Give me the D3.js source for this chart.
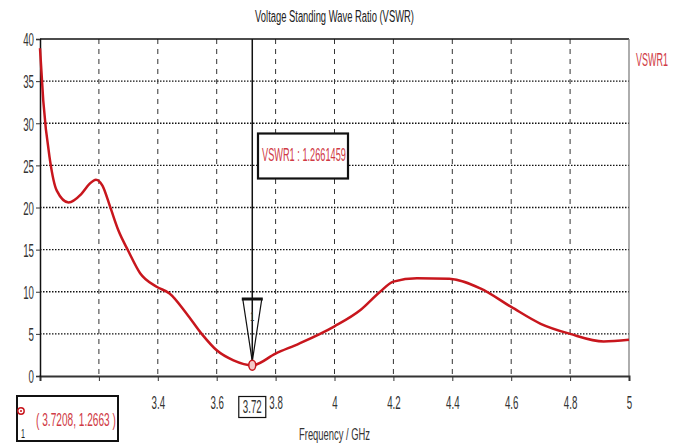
<!DOCTYPE html>
<html>
<head>
<meta charset="utf-8">
<script src="https://cdn.jsdelivr.net/npm/d3@7/dist/d3.min.js"></script>
<style>
  body { margin: 0; background: #fff; }
  svg { display: block; font-family: "Liberation Sans", Arial, sans-serif; }
</style>
</head>
<body>
<svg width="683" height="446"></svg>
<script>
// data
const freq = [3.0, 3.011, 3.034, 3.057, 3.097, 3.14, 3.168, 3.19, 3.212, 3.238, 3.266, 3.299, 3.34,
  3.396, 3.44, 3.498, 3.549, 3.6, 3.657, 3.7208, 3.8, 3.88, 4.0, 4.087, 4.155, 4.2, 4.28, 4.39,
  4.495, 4.6, 4.7, 4.8, 4.914, 5.0];
const vswr = [38.9, 32.7, 25.6, 22.0, 20.6, 21.6, 22.8, 23.3, 22.6, 20.1, 17.3, 14.9, 12.2,
  10.6, 9.8, 7.4, 5.0, 3.05, 1.86, 1.27, 2.66, 3.85, 5.9, 7.8, 10.0, 11.2, 11.6, 11.55,
  10.4, 8.2, 6.2, 5.0, 4.1, 4.3];
const xTicks = [3, 3.2, 3.4, 3.6, 3.8, 4, 4.2, 4.4, 4.6, 4.8, 5];
const xHiddenLabels = [3, 3.2]; // covered by the marker table in the reference
const yTicks = [0, 5, 10, 15, 20, 25, 30, 35, 40];
const markerFreq = 3.7208;
const markerVal = 1.2663;
const markerReadout = '1.2661459';
const seriesName = 'VSWR1';

const svg = d3.select('svg');
const margin = { top: 39, right: 54, bottom: 70, left: 40 };
const width = 683 - margin.left - margin.right;
const height = 446 - margin.top - margin.bottom;
const red = '#c8161d';
const textRed = '#d03a45';
const sx = 0.54;

const x = d3.scaleLinear().domain([3, 5]).range([0, width]);
const y = d3.scaleLinear().domain([0, 40]).range([height, 0]);

// squeeze a text horizontally so it spans `w` pixels
function fitText(parent, px, py, w, anchor, size, fill, str) {
  const t = parent.append('text')
    .attr('font-size', size).attr('fill', fill)
    .attr('text-anchor', anchor)
    .text(str);
  const len = t.node().getComputedTextLength();
  t.attr('transform', `translate(${px},${py}) scale(${w / len},1)`);
  return t;
}

const g = svg.append('g').attr('transform', `translate(${margin.left},${margin.top})`);

// title
fitText(svg, margin.left + width / 2, 22, 159, 'middle', 16, '#222', 'Voltage Standing Wave Ratio (VSWR)');

// grid
g.selectAll('.hgrid').data(yTicks.slice(1, -1)).enter().append('line')
  .attr('x1', 0).attr('x2', width)
  .attr('y1', d => y(d)).attr('y2', d => y(d))
  .attr('stroke', '#111').attr('stroke-width', 1.3)
  .attr('stroke-dasharray', '1.5,1.5');

g.selectAll('.vgrid').data(xTicks.slice(1, -1)).enter().append('line')
  .attr('x1', d => x(d)).attr('x2', d => x(d))
  .attr('y1', 0).attr('y2', height)
  .attr('stroke', '#333').attr('stroke-width', 1)
  .attr('stroke-dasharray', '5,5');

// frame
g.append('line').attr('x1', 0).attr('x2', width).attr('y1', 0).attr('y2', 0)
  .attr('stroke', '#111').attr('stroke-width', 1.5);
g.append('line').attr('x1', width).attr('x2', width).attr('y1', 0).attr('y2', height)
  .attr('stroke', '#777').attr('stroke-width', 1.2);

// X axis
const xAxis = g.append('g')
  .attr('transform', `translate(0,${height})`)
  .call(d3.axisBottom(x).tickValues(xTicks)
    .tickFormat(d => xHiddenLabels.includes(d) ? '' : d3.format('')(d))
    .tickSize(5).tickPadding(15));
xAxis.select('.domain').attr('stroke', '#333').attr('stroke-width', 2);
xAxis.selectAll('.tick line').attr('stroke', '#333');
xAxis.selectAll('.tick text')
  .attr('font-size', 18).attr('fill', '#333')
  .attr('transform', `scale(${sx},1)`);

// Y axis
const yAxis = g.append('g')
  .call(d3.axisLeft(y).tickValues(yTicks).tickSize(4).tickPadding(2));
yAxis.select('.domain').attr('stroke', '#111').attr('stroke-width', 1.5);
yAxis.selectAll('.tick line').attr('stroke', '#333');
yAxis.selectAll('.tick text')
  .attr('font-size', 18).attr('fill', '#333')
  .attr('x', 0)
  .attr('transform', `translate(-6,1) scale(${sx},1)`);

// curve
const pts = freq.map((f, i) => ({ f, v: vswr[i] }));
const line = d3.line().x(d => x(d.f)).y(d => y(d.v)).curve(d3.curveMonotoneX);
g.append('path').datum(pts)
  .attr('fill', 'none').attr('stroke', red).attr('stroke-width', 2.5)
  .attr('d', line);

// marker
const mx = x(markerFreq);
const my = y(markerVal);
g.append('line').attr('x1', mx).attr('x2', mx).attr('y1', 0).attr('y2', my - 4)
  .attr('stroke', '#111').attr('stroke-width', 1.5);
const triTop = 260;
g.append('path')
  .attr('d', `M${mx - 9.5},${triTop} L${mx + 9.5},${triTop} L${mx},${my - 4} Z`)
  .attr('fill', 'none').attr('stroke', '#111').attr('stroke-width', 1.2);
g.append('line').attr('x1', mx - 10.5).attr('x2', mx + 10.5).attr('y1', triTop).attr('y2', triTop)
  .attr('stroke', '#111').attr('stroke-width', 3);
fitText(g, mx, triTop + 22, 4, 'middle', 13, '#333', '1');
g.append('ellipse').attr('cx', mx).attr('cy', my).attr('rx', 3.5).attr('ry', 5)
  .attr('fill', '#f4c8c8').attr('stroke', red).attr('stroke-width', 1.5);

// readout box
g.append('rect').attr('x', 218).attr('y', 94.5).attr('width', 90).attr('height', 45)
  .attr('fill', '#fff').attr('stroke', '#111').attr('stroke-width', 2.2);
fitText(g, 222, 122, 84, 'start', 18, textRed, `${seriesName} : ${markerReadout}`);

// 3.72 label on axis
const lab = g.append('g').attr('transform', `translate(${mx},${height})`);
lab.append('rect').attr('x', -13.5).attr('y', 20.5).attr('width', 27).attr('height', 21)
  .attr('fill', '#fff').attr('stroke', '#111').attr('stroke-width', 1.2);
lab.append('text').attr('y', 37).attr('text-anchor', 'middle')
  .attr('font-size', 18).attr('fill', '#333')
  .attr('transform', `scale(${sx},1)`)
  .text(d3.format('.2f')(markerFreq));

// legend name
fitText(svg, 636, 66, 32, 'start', 18, textRed, seriesName);

// x axis title
fitText(svg, margin.left + width / 2, 440, 71, 'middle', 17, '#333', 'Frequency / GHz');

// marker table bottom-left
const mb = svg.append('g');
mb.append('rect').attr('x', 17).attr('y', 396).attr('width', 101).attr('height', 45)
  .attr('fill', '#fff').attr('stroke', '#111').attr('stroke-width', 2);
mb.append('circle').attr('cx', 21).attr('cy', 411).attr('r', 3.2)
  .attr('fill', 'none').attr('stroke', red).attr('stroke-width', 1.4);
mb.append('circle').attr('cx', 21).attr('cy', 411).attr('r', 1)
  .attr('fill', red);
fitText(mb, 23, 438, 4, 'middle', 12, '#222', '1');
fitText(mb, 36, 426, 80, 'start', 18, textRed, `( ${markerFreq}, ${markerVal} )`);
</script>
</body>
</html>
